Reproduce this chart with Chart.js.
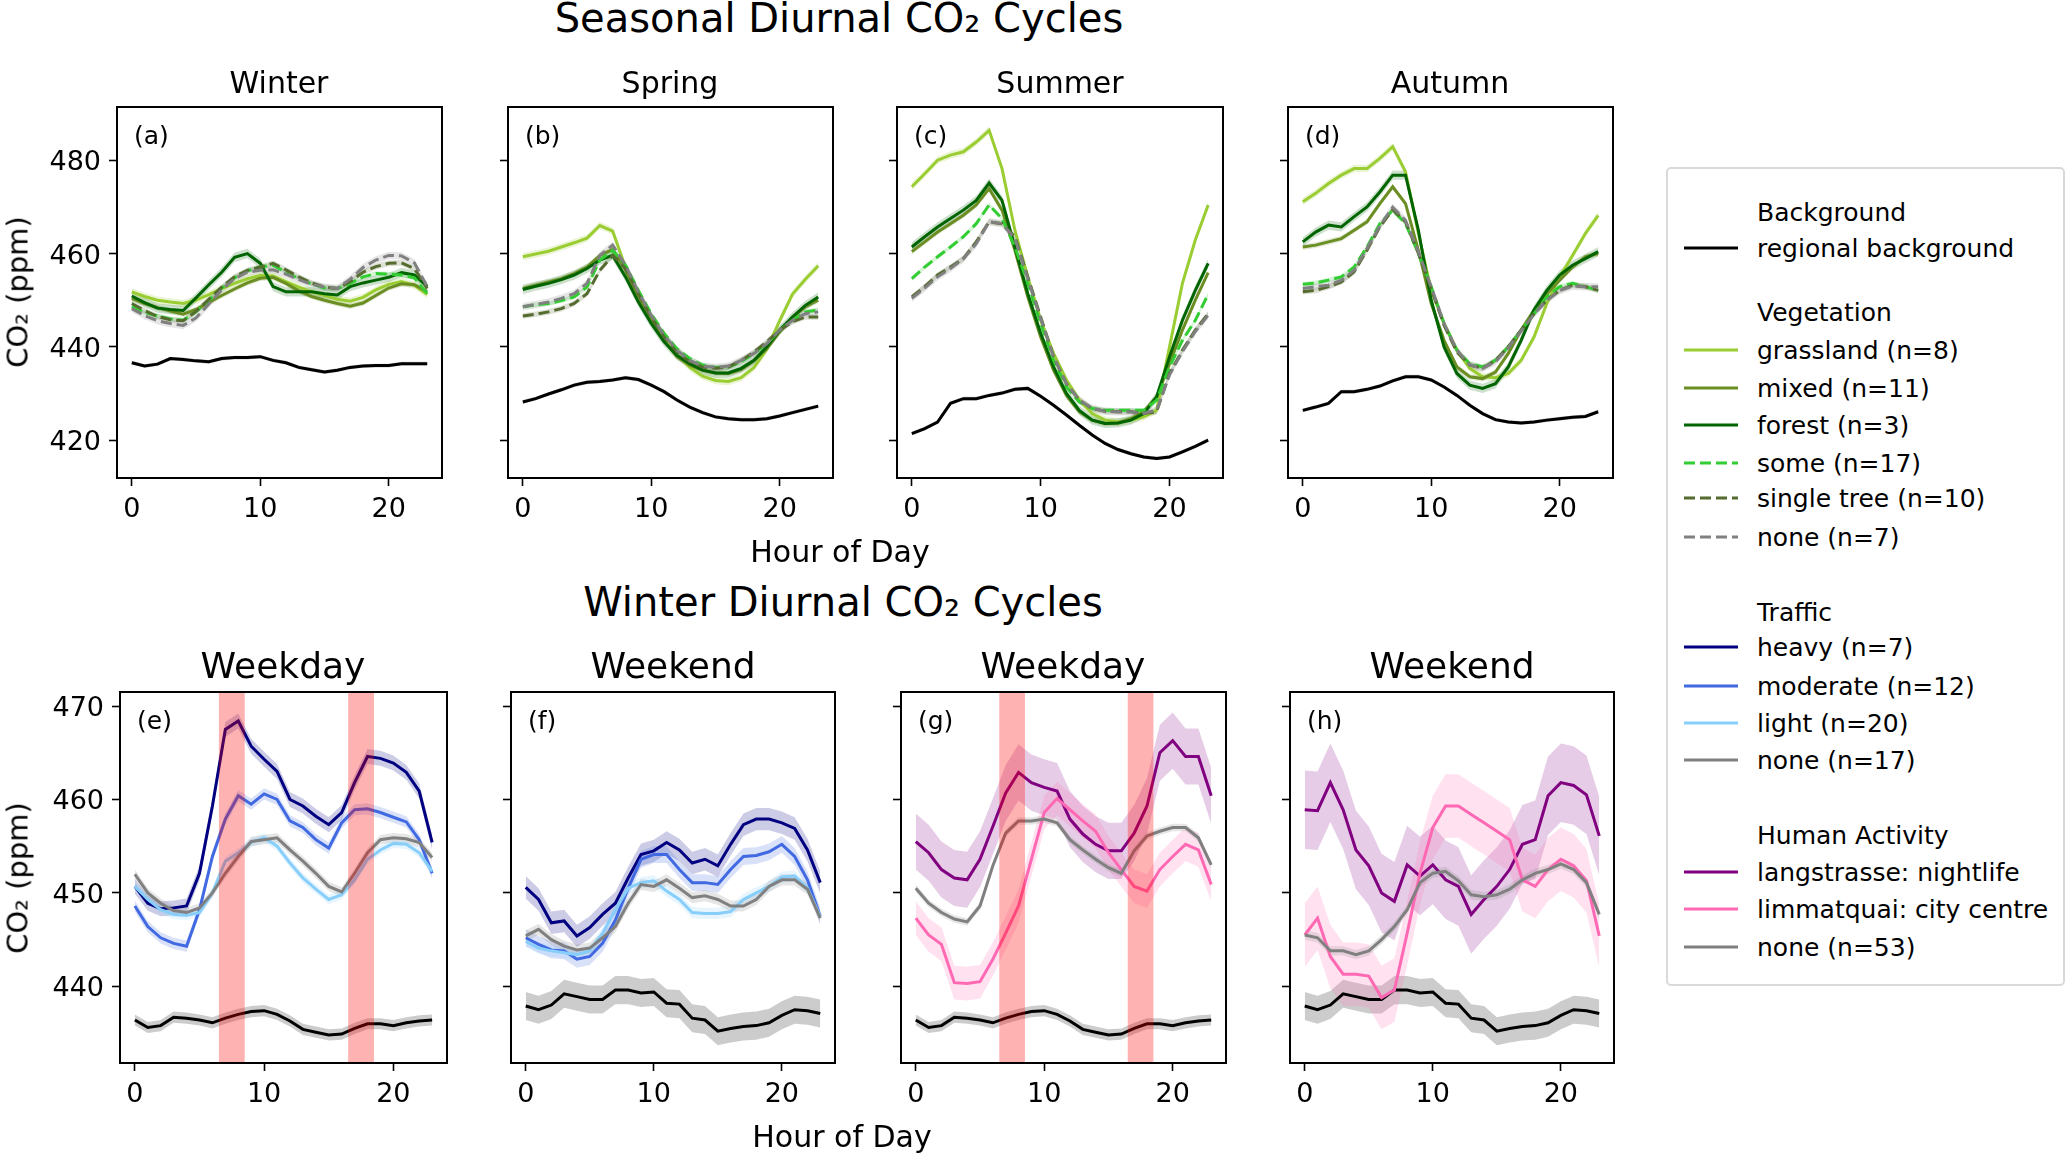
<!DOCTYPE html>
<html>
<head>
<meta charset="utf-8">
<title>Seasonal Diurnal CO2 Cycles</title>
<script src="https://cdn.jsdelivr.net/npm/chart.js@4.4.1/dist/chart.umd.min.js"></script>
<style>
  body { margin: 0; width: 2067px; height: 1155px; position: relative; overflow: hidden; background: #fff; font-family: "DejaVu Sans", sans-serif; color: #000; }
  canvas { position: absolute; }
  .t { position: absolute; white-space: nowrap; line-height: 1; transform: translate(-50%, -50%); }
  .rot { transform: translate(-50%, -50%) rotate(-90deg); }
  #legend { position: absolute; left: 1666px; top: 167px; width: 399px; height: 819px; border: 2.5px solid #d9d9d9; border-radius: 5px; box-sizing: border-box; }
  .lg { position: absolute; white-space: nowrap; line-height: 1; font-size: 25px; transform: translateY(-50%); }
  .hd { position: absolute; }
</style>
</head>
<body>
<div id="legend"></div>
<script>
// x values: hour of day
const hours = [0, 1, 2, 3, 4, 5, 6, 7, 8, 9, 10, 11, 12, 13, 14, 15, 16, 17, 18, 19, 20, 21, 22, 23];
const xTicks = [0, 10, 20];
const seasonTicks = [420, 440, 460, 480];
const winterTicks = [440, 450, 460, 470];
const rushHours = [[6.5, 8.5], [16.5, 18.5]];   // red shaded weekday rush hours

// ---- (a) winter, vegetation ----
const winterBg     = [436.6, 435.9, 436.3, 437.5, 437.3, 437.0, 436.8, 437.5, 437.7, 437.7, 437.9, 437.1, 436.6, 435.6, 435.1, 434.6, 435.0, 435.6, 435.9, 436.0, 436.0, 436.4, 436.4, 436.4];
const winterGrass  = [451.8, 450.8, 450.0, 449.6, 449.3, 450.0, 451.2, 452.5, 453.6, 454.6, 455.3, 455.2, 454.0, 452.8, 451.8, 451.0, 450.2, 449.8, 450.6, 452.2, 453.4, 454.0, 453.2, 451.2];
const winterMixed  = [450.4, 449.3, 448.4, 447.7, 447.0, 448.0, 449.5, 451.0, 452.4, 453.7, 454.7, 454.9, 453.6, 452.0, 450.8, 450.0, 449.3, 448.7, 449.4, 451.0, 452.6, 453.5, 453.3, 451.8];
const winterForest = [450.9, 449.5, 448.3, 448.0, 447.8, 450.5, 453.3, 456.0, 459.2, 460.0, 457.9, 452.9, 451.8, 451.8, 451.8, 451.4, 451.1, 452.9, 453.7, 454.3, 454.9, 455.9, 455.4, 452.9];
const winterSome   = [448.6, 447.4, 446.6, 446.0, 445.7, 447.5, 450.0, 452.6, 454.8, 456.3, 457.1, 457.5, 456.0, 454.6, 453.5, 452.6, 452.5, 453.6, 455.0, 455.7, 455.6, 455.4, 454.8, 451.4];
const winterSingle = [449.3, 447.8, 446.5, 445.8, 445.6, 447.6, 450.2, 452.8, 455.0, 456.4, 457.1, 457.9, 456.5, 455.0, 453.7, 452.8, 452.5, 454.0, 456.0, 457.2, 457.9, 458.0, 456.8, 452.5];
const winterNone   = [448.2, 446.7, 445.6, 445.0, 444.6, 446.2, 449.2, 452.2, 454.6, 456.0, 456.4, 456.5, 455.6, 454.4, 453.4, 452.8, 452.5, 454.5, 457.0, 458.6, 459.6, 459.5, 458.0, 452.9];

// ---- (b) spring ----
const springBg     = [428.2, 428.9, 429.9, 430.8, 431.8, 432.4, 432.6, 432.9, 433.4, 433.0, 431.8, 430.4, 428.6, 427.1, 425.9, 425.0, 424.6, 424.4, 424.4, 424.6, 425.2, 425.9, 426.6, 427.3];
const springGrass  = [459.3, 459.9, 460.5, 461.4, 462.3, 463.3, 466.0, 464.8, 457.0, 451.2, 446.2, 442.0, 438.4, 435.6, 433.7, 432.8, 432.6, 433.4, 435.6, 439.5, 445.6, 451.3, 454.5, 457.4];
const springMixed  = [452.5, 453.2, 453.9, 454.6, 455.7, 457.1, 459.6, 460.9, 456.4, 450.7, 445.7, 441.4, 437.9, 436.1, 435.0, 434.4, 434.3, 435.1, 437.0, 439.6, 443.2, 446.4, 448.6, 450.0];
const springForest = [452.3, 453.0, 453.6, 454.4, 455.4, 456.8, 458.6, 459.6, 455.0, 449.6, 445.0, 441.1, 438.2, 436.4, 435.0, 434.4, 434.4, 435.4, 437.1, 440.0, 443.6, 446.4, 448.9, 450.7];
const springSome   = [448.6, 449.0, 449.3, 449.9, 450.7, 452.8, 458.6, 460.7, 457.5, 452.1, 447.1, 442.9, 439.6, 437.5, 436.1, 435.6, 435.7, 436.8, 438.6, 440.7, 443.6, 445.7, 447.5, 447.9];
const springSingle = [446.6, 447.0, 447.5, 448.2, 449.3, 451.4, 456.4, 459.6, 456.8, 451.4, 446.4, 442.1, 438.9, 436.8, 435.7, 435.4, 435.7, 437.1, 438.9, 441.1, 443.6, 445.4, 446.4, 446.4];
const springNone   = [448.6, 449.1, 449.6, 450.4, 451.4, 453.6, 459.6, 461.8, 457.5, 451.8, 446.8, 442.5, 439.3, 437.1, 435.9, 435.6, 435.9, 437.1, 438.6, 440.7, 443.6, 445.7, 447.1, 447.5];

// ---- (c) summer ----
const summerBg     = [421.4, 422.5, 423.9, 427.9, 428.9, 428.9, 429.6, 430.1, 430.9, 431.1, 429.4, 427.5, 425.4, 423.2, 421.1, 419.3, 418.0, 417.1, 416.4, 416.1, 416.4, 417.5, 418.7, 420.0];
const summerGrass  = [474.3, 477.1, 480.0, 481.1, 481.8, 483.9, 486.4, 478.2, 465.0, 455.0, 445.7, 438.6, 432.9, 428.6, 425.7, 424.3, 423.9, 424.3, 425.0, 426.4, 440.0, 453.6, 462.9, 470.4];
const summerMixed  = [460.4, 462.5, 464.6, 466.4, 468.2, 470.4, 473.9, 469.3, 460.7, 450.7, 442.1, 435.0, 429.6, 426.1, 424.3, 423.6, 423.7, 424.6, 426.1, 429.3, 436.4, 443.6, 450.0, 455.9];
const summerForest = [461.4, 463.6, 465.7, 467.5, 469.3, 471.4, 475.1, 471.4, 461.4, 451.4, 442.9, 435.7, 430.0, 426.4, 424.3, 423.6, 423.7, 424.3, 425.7, 429.3, 437.9, 445.7, 452.1, 457.9];
const summerSome   = [454.6, 457.1, 459.3, 461.4, 463.6, 466.4, 470.4, 467.5, 461.4, 453.6, 445.0, 437.1, 431.4, 428.2, 426.8, 426.4, 426.4, 426.4, 426.4, 428.6, 435.7, 441.4, 445.7, 451.3];
const summerSingle = [450.7, 452.9, 455.4, 457.1, 458.9, 462.5, 466.8, 466.4, 463.6, 455.0, 446.4, 437.9, 432.1, 428.6, 426.8, 426.2, 426.1, 426.1, 425.7, 426.1, 434.3, 439.3, 443.6, 447.1];
const summerNone   = [450.4, 452.6, 455.0, 456.8, 458.9, 462.1, 466.8, 466.4, 463.2, 454.6, 446.1, 437.9, 432.1, 428.6, 426.8, 426.2, 426.1, 426.1, 425.8, 426.4, 434.0, 439.0, 443.3, 446.8];

// ---- (d) autumn ----
const autumnBg     = [426.4, 427.1, 427.9, 430.4, 430.4, 430.9, 431.6, 432.7, 433.6, 433.6, 432.9, 431.4, 429.6, 427.5, 425.7, 424.4, 423.9, 423.7, 423.9, 424.3, 424.6, 424.9, 425.1, 426.1];
const autumnGrass  = [471.1, 472.9, 475.0, 476.8, 478.2, 478.2, 480.4, 482.9, 477.5, 464.3, 452.1, 445.0, 439.3, 435.4, 433.6, 433.4, 434.3, 437.1, 442.1, 449.3, 455.0, 459.6, 464.3, 468.2];
const autumnMixed  = [461.4, 461.8, 462.5, 463.2, 465.0, 466.8, 470.7, 474.3, 470.7, 460.7, 449.3, 441.4, 435.7, 433.6, 433.2, 434.6, 438.6, 443.6, 447.9, 451.4, 454.3, 457.1, 459.3, 460.0];
const autumnForest = [462.5, 464.6, 466.1, 465.7, 467.9, 470.0, 473.2, 476.8, 476.8, 465.0, 450.0, 440.0, 434.3, 431.8, 431.1, 432.1, 435.7, 441.4, 447.9, 452.1, 455.4, 457.5, 458.9, 460.4];
const autumnSome   = [453.4, 453.7, 454.3, 455.0, 457.1, 461.4, 466.4, 469.3, 466.4, 460.0, 452.9, 445.0, 439.3, 436.4, 435.7, 437.1, 440.0, 443.6, 447.1, 450.7, 452.9, 453.6, 452.9, 452.1];
const autumnSingle = [451.8, 452.1, 452.9, 453.9, 456.1, 460.7, 465.7, 469.4, 466.8, 460.0, 452.5, 444.6, 438.9, 436.1, 435.4, 437.1, 440.0, 443.6, 447.1, 450.0, 452.1, 453.2, 452.9, 452.1];
const autumnNone   = [452.5, 452.9, 453.2, 454.3, 456.4, 461.1, 465.9, 469.9, 467.1, 460.4, 452.9, 445.0, 439.3, 436.1, 435.4, 436.8, 439.8, 443.4, 447.0, 450.0, 452.1, 453.0, 452.9, 452.9];

// ---- winter weekday / weekend background ----
const bgWeekday = [436.4, 435.6, 435.8, 436.7, 436.6, 436.4, 436.1, 436.6, 437.0, 437.3, 437.4, 437.0, 436.3, 435.4, 435.1, 434.8, 434.9, 435.5, 436.0, 436.0, 435.8, 436.1, 436.3, 436.4];
const bgWeekend = [437.9, 437.5, 438.0, 439.2, 438.9, 438.6, 438.6, 439.6, 439.6, 439.3, 439.4, 438.2, 438.1, 436.6, 436.4, 435.2, 435.5, 435.7, 435.8, 436.1, 436.9, 437.5, 437.4, 437.1];

// ---- (e)/(f) traffic ----
const heavyWeekday    = [450.7, 448.9, 448.3, 448.4, 448.6, 452.1, 459.3, 467.5, 468.4, 465.7, 464.3, 463.0, 460.0, 459.3, 458.2, 457.3, 458.6, 461.8, 464.6, 464.4, 463.9, 462.9, 460.9, 455.4];
const moderateWeekday = [448.6, 446.4, 445.2, 444.6, 444.3, 448.2, 453.9, 457.9, 460.4, 459.5, 460.6, 460.0, 457.7, 457.0, 455.7, 454.8, 457.5, 458.9, 459.0, 458.6, 458.1, 457.6, 455.7, 452.1];
const lightWeekday    = [450.7, 449.3, 448.2, 447.7, 447.6, 447.9, 450.0, 453.4, 454.3, 455.4, 455.9, 455.0, 453.2, 451.6, 450.4, 449.3, 449.8, 451.4, 453.6, 454.6, 455.3, 455.2, 454.3, 452.3];
const noTrafWeekday   = [452.0, 450.0, 448.9, 448.1, 447.9, 448.4, 450.0, 452.1, 453.9, 455.5, 455.7, 455.9, 454.6, 453.4, 452.1, 450.7, 450.1, 452.1, 454.3, 455.7, 455.9, 455.8, 455.4, 453.8];
const heavyWeekend    = [450.6, 449.3, 446.8, 447.0, 445.4, 446.3, 447.7, 448.9, 451.6, 454.1, 454.5, 455.4, 454.6, 453.2, 453.6, 452.9, 455.2, 457.3, 457.9, 457.9, 457.5, 456.9, 454.6, 451.1];
const moderateWeekend = [445.2, 444.5, 443.9, 443.8, 442.9, 443.2, 444.6, 447.1, 450.5, 453.6, 454.1, 454.1, 452.5, 451.1, 451.1, 450.9, 452.5, 453.9, 454.0, 454.4, 455.2, 453.9, 451.4, 447.5];
const lightWeekend    = [444.8, 444.1, 443.8, 443.6, 443.4, 443.8, 445.7, 448.2, 450.5, 451.1, 451.3, 450.2, 449.3, 447.9, 447.8, 447.8, 448.0, 449.3, 450.0, 450.7, 451.7, 451.8, 450.5, 447.5];
const noTrafWeekend   = [445.4, 446.1, 445.0, 444.3, 443.9, 444.1, 445.2, 446.4, 448.9, 450.9, 450.7, 451.4, 450.5, 449.5, 449.7, 449.3, 448.6, 448.6, 449.3, 450.7, 451.4, 451.4, 450.4, 447.3];

// ---- (g)/(h) human activity ----
const langWeekday   = [455.5, 454.3, 452.5, 451.6, 451.4, 453.6, 457.1, 460.7, 462.9, 461.8, 461.3, 460.9, 457.9, 456.3, 455.2, 454.5, 454.5, 456.4, 459.3, 465.0, 466.3, 464.6, 464.6, 460.4];
const limmatWeekday = [447.3, 445.5, 444.5, 440.4, 440.3, 440.5, 442.9, 445.7, 448.6, 453.6, 458.6, 460.1, 458.9, 457.7, 456.6, 454.3, 452.5, 450.7, 450.2, 452.5, 453.9, 455.2, 454.6, 450.9];
const none53Weekday = [450.5, 448.9, 447.9, 447.2, 446.9, 448.6, 452.9, 456.4, 457.7, 457.7, 457.9, 457.5, 455.7, 454.6, 453.6, 452.7, 452.1, 454.5, 456.1, 456.6, 457.0, 457.0, 455.9, 453.0];
const langWeekend   = [458.9, 458.8, 461.8, 458.9, 454.6, 452.9, 450.0, 449.1, 453.0, 451.8, 453.0, 451.4, 450.7, 447.7, 449.3, 450.7, 452.5, 455.2, 455.7, 460.4, 461.8, 461.5, 460.5, 456.1];
const limmatWeekend = [445.5, 447.3, 443.2, 441.3, 441.3, 441.1, 438.8, 439.6, 445.7, 452.1, 457.0, 459.3, 459.3, 458.4, 457.5, 456.6, 455.7, 451.4, 450.7, 452.5, 453.6, 452.9, 451.3, 445.4];
const none53Weekend = [445.5, 445.2, 443.8, 443.8, 443.4, 443.8, 445.0, 446.4, 448.2, 451.1, 452.1, 452.3, 451.3, 449.8, 449.6, 449.8, 450.4, 451.4, 452.1, 452.5, 453.1, 452.5, 451.1, 447.7];

// half-width of the shaded uncertainty band for each series (ppm)
const vegSpread = [0.4, 0.8, 0.6, 1.0, 0.5, 0.6, 0.8];        // bg, grass, mixed, forest, some, single, none
const trafficSpreadWeekday = [0.6, 0.8, 0.6, 0.5, 0.5];       // bg, heavy, moderate, light, none
const trafficSpreadWeekend = [1.5, 1.2, 0.9, 0.6, 0.6];
const humanSpreadWeekday = [0.6, 3.0, 1.8, 0.4];              // bg, langstrasse, limmatquai, none
const humanSpreadWeekend = [1.5, 4.2, 3.4, 0.5];

const col = {
  bg: '#000000', grass: '#9acd32', mixed: '#6b8e23', forest: '#006400',
  some: '#32cd32', single: '#556b2f', noneVeg: '#808080',
  heavy: '#000080', moderate: '#4169e1', light: '#87cefa', none: '#808080',
  lang: '#800080', limmat: '#ff69b4'
};

function veg(bg, grass, mixed, forest, some, single, none) {
  const s = [
    {v: bg, c: col.bg}, {v: grass, c: col.grass}, {v: mixed, c: col.mixed}, {v: forest, c: col.forest},
    {v: some, c: col.some, dash: true}, {v: single, c: col.single, dash: true}, {v: none, c: col.noneVeg, dash: true}
  ];
  s.forEach((x, i) => x.sd = vegSpread[i]);
  return s;
}
function traffic(bg, heavy, moderate, light, none, spread) {
  const s = [{v: bg, c: col.bg}, {v: heavy, c: col.heavy}, {v: moderate, c: col.moderate}, {v: light, c: col.light}, {v: none, c: col.none}];
  s.forEach((x, i) => x.sd = spread[i]);
  return s;
}
function human(bg, lang, limmat, none, spread) {
  const s = [{v: bg, c: col.bg}, {v: lang, c: col.lang}, {v: limmat, c: col.limmat}, {v: none, c: col.none}];
  s.forEach((x, i) => x.sd = spread[i]);
  return s;
}

const topRange = [411.9, 491.4], botRange = [431.8, 471.5];
const panels = [
  {tag: '(a)', box: [117, 107, 442, 478], range: topRange, ticks: seasonTicks, yLabels: true,
   series: veg(winterBg, winterGrass, winterMixed, winterForest, winterSome, winterSingle, winterNone)},
  {tag: '(b)', box: [508, 107, 833, 478], range: topRange, ticks: seasonTicks, yLabels: false,
   series: veg(springBg, springGrass, springMixed, springForest, springSome, springSingle, springNone)},
  {tag: '(c)', box: [897, 107, 1223, 478], range: topRange, ticks: seasonTicks, yLabels: false,
   series: veg(summerBg, summerGrass, summerMixed, summerForest, summerSome, summerSingle, summerNone)},
  {tag: '(d)', box: [1288, 107, 1613, 478], range: topRange, ticks: seasonTicks, yLabels: false,
   series: veg(autumnBg, autumnGrass, autumnMixed, autumnForest, autumnSome, autumnSingle, autumnNone)},
  {tag: '(e)', box: [120, 692, 447, 1063], range: botRange, ticks: winterTicks, yLabels: true, rush: true,
   series: traffic(bgWeekday, heavyWeekday, moderateWeekday, lightWeekday, noTrafWeekday, trafficSpreadWeekday)},
  {tag: '(f)', box: [511, 692, 835, 1063], range: botRange, ticks: winterTicks, yLabels: false,
   series: traffic(bgWeekend, heavyWeekend, moderateWeekend, lightWeekend, noTrafWeekend, trafficSpreadWeekend)},
  {tag: '(g)', box: [901, 692, 1226, 1063], range: botRange, ticks: winterTicks, yLabels: false, rush: true,
   series: human(bgWeekday, langWeekday, limmatWeekday, none53Weekday, humanSpreadWeekday)},
  {tag: '(h)', box: [1290, 692, 1614, 1063], range: botRange, ticks: winterTicks, yLabels: false,
   series: human(bgWeekend, langWeekend, limmatWeekend, none53Weekend, humanSpreadWeekend)}
];

Chart.defaults.font.family = '"DejaVu Sans", sans-serif';
Chart.defaults.color = '#000';

function rgba(hex, a) {
  const n = parseInt(hex.slice(1), 16);
  return 'rgba(' + (n >> 16) + ',' + ((n >> 8) & 255) + ',' + (n & 255) + ',' + a + ')';
}

// box around the axes + rush hour shading + panel letter
const panelDecor = {
  id: 'decor',
  afterDatasetsDraw(chart, args, opts) {
    const {ctx, chartArea: a, scales: {x}} = chart;
    ctx.save();
    if (opts.rush) {
      ctx.fillStyle = 'rgba(255,0,0,0.3)';
      rushHours.forEach(([s, e]) => {
        const x0 = x.getPixelForValue(s), x1 = x.getPixelForValue(e);
        ctx.fillRect(x0, a.top, x1 - x0, a.bottom - a.top);
      });
    }
    ctx.strokeStyle = '#000';
    ctx.lineWidth = 2;
    ctx.strokeRect(a.left, a.top, a.right - a.left, a.bottom - a.top);
    ctx.fillStyle = '#000';
    ctx.font = '25px "DejaVu Sans"';
    ctx.textBaseline = 'middle';
    ctx.fillText(opts.tag, a.left + 17, a.top + 30);
    ctx.restore();
  }
};

const padL = 100, padR = 14, padT = 40, padB = 60;

function makePanel(p) {
  const [l, t, r, b] = p.box;
  const w = r - l + padL + padR, h = b - t + padT + padB;
  const cv = document.createElement('canvas');
  cv.width = w; cv.height = h;
  cv.style.left = (l - padL) + 'px'; cv.style.top = (t - padT) + 'px';
  cv.style.width = w + 'px'; cv.style.height = h + 'px';
  document.body.appendChild(cv);

  const datasets = [];
  p.series.forEach((s, k) => {
    datasets.push({
      data: s.v.map((v, i) => ({x: hours[i], y: v})),
      borderColor: s.c, borderWidth: 3, borderDash: s.dash ? [11, 5] : [],
      pointRadius: 0, fill: false, tension: 0, order: 100 - k
    });
    datasets.push({
      data: s.v.map((v, i) => ({x: hours[i], y: v + s.sd})),
      borderColor: 'rgba(0,0,0,0)', borderWidth: 1, pointRadius: 0, fill: false, order: 500 - k
    });
    datasets.push({
      data: s.v.map((v, i) => ({x: hours[i], y: v - s.sd})),
      borderColor: 'rgba(0,0,0,0)', borderWidth: 1, pointRadius: 0,
      fill: '-1', backgroundColor: rgba(s.c, 0.2), order: 500 - k
    });
  });

  const tickGrid = {drawOnChartArea: false, drawTicks: true, tickLength: 8, tickColor: '#000', tickWidth: 1.6};
  new Chart(cv, {
    type: 'line',
    data: {datasets: datasets},
    options: {
      responsive: false,
      animation: false,
      layout: {padding: {top: padT, right: padR, left: 0, bottom: 0}},
      plugins: {legend: {display: false}, tooltip: {enabled: false}, decor: {rush: !!p.rush, tag: p.tag}},
      scales: {
        x: {
          type: 'linear', min: -1.15, max: 24.15,
          afterBuildTicks: s => { s.ticks = xTicks.map(v => ({value: v})); },
          afterFit: s => { s.height = padB; },
          border: {display: false}, grid: tickGrid,
          ticks: {font: {size: 27}, color: '#000', padding: 8, maxRotation: 0, autoSkip: false}
        },
        y: {
          min: p.range[0], max: p.range[1],
          afterBuildTicks: s => { s.ticks = p.ticks.map(v => ({value: v})); },
          afterFit: s => { s.width = padL; },
          border: {display: false}, grid: tickGrid,
          ticks: {display: p.yLabels, font: {size: 27}, color: '#000', padding: 8, labelOffset: 3, autoSkip: false}
        }
      }
    },
    plugins: [panelDecor]
  });
}
panels.forEach(makePanel);

// titles and axis labels
const texts = [
  ['Seasonal Diurnal CO₂ Cycles', 839, 18, 40],
  ['Winter', 279, 83, 30], ['Spring', 670, 83, 30], ['Summer', 1060, 83, 30], ['Autumn', 1450, 83, 30],
  ['Hour of Day', 840, 552, 30],
  ['Winter Diurnal CO₂ Cycles', 843, 602, 40],
  ['Weekday', 283, 666, 36], ['Weekend', 673, 666, 36], ['Weekday', 1063, 666, 36], ['Weekend', 1452, 666, 36],
  ['Hour of Day', 842, 1137, 30]
];
texts.forEach(([s, x, y, f]) => {
  const d = document.createElement('div');
  d.className = 't'; d.textContent = s;
  d.style.left = x + 'px'; d.style.top = y + 'px'; d.style.fontSize = f + 'px';
  document.body.appendChild(d);
});
[[18, 292], [18, 878]].forEach(([x, y]) => {
  const d = document.createElement('div');
  d.className = 't rot'; d.textContent = 'CO₂ (ppm)';
  d.style.left = x + 'px'; d.style.top = y + 'px'; d.style.fontSize = '29px';
  document.body.appendChild(d);
});

// legend
const legendRows = [
  {title: 'Background'},
  {label: 'regional background', c: col.bg},
  {title: 'Vegetation'},
  {label: 'grassland (n=8)', c: col.grass},
  {label: 'mixed (n=11)', c: col.mixed},
  {label: 'forest (n=3)', c: col.forest},
  {label: 'some (n=17)', c: col.some, dash: true},
  {label: 'single tree (n=10)', c: col.single, dash: true},
  {label: 'none (n=7)', c: col.noneVeg, dash: true},
  {title: 'Traffic'},
  {label: 'heavy (n=7)', c: col.heavy},
  {label: 'moderate (n=12)', c: col.moderate},
  {label: 'light (n=20)', c: col.light},
  {label: 'none (n=17)', c: col.none},
  {title: 'Human Activity'},
  {label: 'langstrasse: nightlife', c: col.lang},
  {label: 'limmatquai: city centre', c: col.limmat},
  {label: 'none (n=53)', c: col.none}
];
const legendY = [212, 248, 312, 350, 388, 425, 463, 498, 537, 612, 647, 686, 723, 760, 835, 872, 909, 947];
legendRows.forEach((row, i) => {
  const y = legendY[i];
  const d = document.createElement('div');
  d.className = 'lg'; d.textContent = row.title || row.label;
  d.style.left = '1757px'; d.style.top = y + 'px';
  document.body.appendChild(d);
  if (row.c) {
    const ns = 'http://www.w3.org/2000/svg';
    const svg = document.createElementNS(ns, 'svg');
    svg.setAttribute('width', '58'); svg.setAttribute('height', '8');
    svg.setAttribute('class', 'hd');
    svg.style.left = '1683px'; svg.style.top = (y - 4) + 'px';
    const ln = document.createElementNS(ns, 'line');
    ln.setAttribute('x1', '1'); ln.setAttribute('x2', '55');
    ln.setAttribute('y1', '4'); ln.setAttribute('y2', '4');
    ln.setAttribute('stroke', row.c); ln.setAttribute('stroke-width', '2.8');
    if (row.dash) ln.setAttribute('stroke-dasharray', '11 5');
    svg.appendChild(ln);
    document.body.appendChild(svg);
  }
});
</script>
</body>
</html>
